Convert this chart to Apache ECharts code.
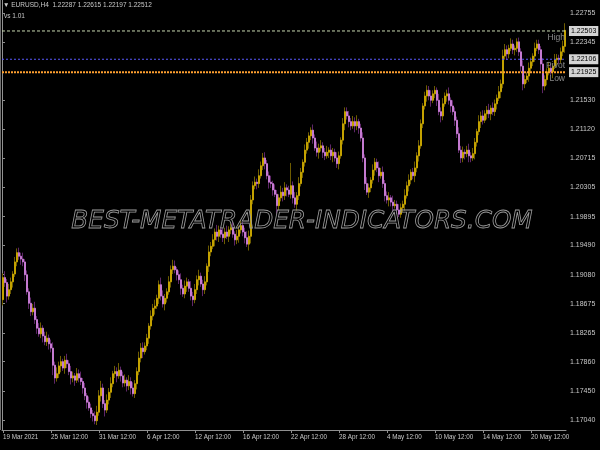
<!DOCTYPE html>
<html><head><meta charset="utf-8">
<script src="https://cdn.jsdelivr.net/npm/echarts@6/dist/echarts.min.js"></script>
<style>html,body{margin:0;padding:0;background:#000}#c{width:600px;height:450px}</style>
</head><body><div id="c"></div>
<script>
// ---- data ----
var firstOpen = 1.1873;
var closes = [
1.1904,1.1897,1.1878,1.1887,1.1898,1.1909,1.1926,1.1939,1.1934,1.1930,1.1926,1.1908,1.1884,1.1868,1.1856,1.1861,1.1845,1.1833,1.1825,1.1833,1.1822,1.1814,1.1819,1.1811,
1.1805,1.1781,1.1763,1.1769,1.1780,1.1786,1.1777,1.1788,1.1783,1.1772,1.1763,1.1766,1.1760,1.1769,1.1763,1.1758,1.1749,1.1738,1.1729,1.1721,1.1713,1.1710,1.1703,1.1715,
1.1738,1.1749,1.1727,1.1718,1.1732,1.1743,1.1755,1.1769,1.1772,1.1766,1.1774,1.1766,1.1756,1.1760,1.1752,1.1758,1.1749,1.1741,1.1755,1.1772,1.1791,1.1805,1.1800,1.1808,
1.1819,1.1836,1.1850,1.1861,1.1864,1.1875,1.1894,1.1878,1.1867,1.1875,1.1884,1.1898,1.1915,1.1920,1.1915,1.1908,1.1901,1.1889,1.1881,1.1892,1.1898,1.1889,1.1878,1.1873,
1.1887,1.1901,1.1906,1.1895,1.1887,1.1898,1.1920,1.1940,1.1948,1.1957,1.1968,1.1962,1.1971,1.1965,1.1960,1.1968,1.1962,1.1971,1.1974,1.1965,1.1957,1.1962,1.1971,1.1977,
1.1968,1.1960,1.1951,1.1962,1.2013,1.2033,1.2038,1.2036,1.2047,1.2061,1.2072,1.2064,1.2047,1.2038,1.2036,1.2027,1.2021,1.2005,1.2016,1.2024,1.2019,1.2030,1.2027,1.2021,
1.2033,1.2016,1.2007,1.2019,1.2036,1.2052,1.2066,1.2083,1.2094,1.2103,1.2111,1.2100,1.2086,1.2080,1.2086,1.2089,1.2080,1.2075,1.2080,1.2083,1.2075,1.2080,1.2072,1.2064,
1.2075,1.2097,1.2120,1.2137,1.2131,1.2123,1.2117,1.2123,1.2117,1.2123,1.2114,1.2100,1.2072,1.2036,1.2024,1.2030,1.2041,1.2055,1.2066,1.2058,1.2047,1.2052,1.2036,1.2019,
1.2013,1.2016,1.2010,1.2005,1.2007,1.1999,1.1993,1.2002,1.2007,1.2019,1.2033,1.2041,1.2052,1.2047,1.2058,1.2075,1.2089,1.2120,1.2145,1.2159,1.2167,1.2159,1.2153,1.2162,
1.2167,1.2153,1.2137,1.2131,1.2148,1.2159,1.2162,1.2153,1.2145,1.2137,1.2125,1.2106,1.2083,1.2072,1.2080,1.2078,1.2083,1.2075,1.2072,1.2078,1.2094,1.2109,1.2123,1.2131,
1.2125,1.2134,1.2139,1.2134,1.2142,1.2137,1.2148,1.2156,1.2165,1.2176,1.2215,1.2224,1.2218,1.2226,1.2232,1.2224,1.2226,1.2235,1.2221,1.2201,1.2176,1.2182,1.2187,1.2198,
1.2207,1.2215,1.2226,1.2232,1.2224,1.2204,1.2173,1.2182,1.2193,1.2198,1.2193,1.2201,1.2210,1.2212,1.2210,1.2221,1.22287,1.22512
];
// wick lengths above / below the body, in pips
var upWick = [
6,9,5,8,6,4,7,6,7,5,9,4,6,5,8,6,9,5,7,8,4,6,9,5,
6,8,5,9,6,8,4,6,9,5,8,6,4,8,6,9,5,7,4,8,6,5,6,9,
8,10,6,5,8,6,9,4,8,6,10,5,6,8,4,9,6,8,5,6,9,7,8,5,
6,4,8,6,9,5,6,10,8,6,5,8,6,9,8,4,6,9,5,8,6,4,10,6,
8,6,9,5,6,8,4,9,6,8,5,10,6,4,8,6,9,5,6,8,4,9,6,8,
5,6,9,8,7,6,8,5,9,6,7,8,5,6,9,4,8,6,5,9,6,8,5,6,
32,6,8,5,9,6,4,8,6,5,4,8,5,9,6,8,5,6,9,4,8,6,5,8,
6,4,8,6,6,7,5,8,6,9,4,6,8,5,9,6,4,8,6,5,9,6,8,5,
6,8,4,9,6,5,8,6,5,9,6,8,4,6,9,5,8,6,4,6,7,6,8,5,
6,4,9,6,8,5,6,9,4,8,6,5,9,6,8,4,6,9,5,8,6,4,9,6,
8,5,6,9,4,8,6,5,8,6,9,8,6,5,8,6,4,5,6,5,8,6,5,8,
6,4,8,6,6,5,8,6,5,9,6,4,8,6,5,6,8,10
];
var dnWick = [
8,6,9,5,6,8,4,6,5,8,6,9,4,8,6,5,6,8,4,6,9,5,6,8,
6,14,8,5,6,9,4,8,6,5,9,6,8,4,6,5,8,6,9,4,6,8,5,6,
5,8,6,9,4,6,8,5,6,9,4,8,6,5,8,6,9,4,6,8,5,6,9,4,
6,8,5,6,9,4,8,6,5,9,6,4,8,6,5,8,6,9,4,6,8,5,6,9,
5,6,8,4,9,6,5,8,6,4,9,6,8,5,6,9,4,8,6,5,8,6,9,5,
6,8,4,9,10,6,5,8,6,4,6,8,5,9,6,8,4,11,6,5,8,6,9,4,
6,8,5,9,6,4,8,6,5,9,6,8,4,6,9,5,8,6,4,8,6,9,5,6,
8,4,6,9,5,8,6,4,9,6,8,5,6,9,4,8,6,5,8,6,9,4,6,8,
5,9,6,8,4,6,4,5,6,9,4,8,6,5,9,6,8,4,6,5,8,6,9,4,
6,8,5,9,6,4,8,6,9,5,8,6,4,7,6,8,5,9,6,4,8,6,5,9,
6,4,8,6,9,5,6,8,4,9,6,5,8,6,4,6,8,5,6,8,9,6,5,8,
5,6,8,4,6,9,10,6,8,5,6,9,4,8,6,5,6,9
];
var xLabels = ['19 Mar 2021','25 Mar 12:00','31 Mar 12:00','6 Apr 12:00','12 Apr 12:00','16 Apr 12:00','22 Apr 12:00','28 Apr 12:00','4 May 12:00','10 May 12:00','14 May 12:00','20 May 12:00'];
var labelStep = 24;
var yTicks = [1.22755,1.22345,1.21530,1.21120,1.20715,1.20305,1.19895,1.19490,1.19080,1.18675,1.18265,1.17860,1.17450,1.17040];
var levels = [1.22503, 1.22106, 1.21925];
var levelNames = ['High', 'Pivot', 'Low'];
var yMin = 1.16900, yMax = 1.22938;
var header = '\u25BC EURUSD,H4  1.22287 1.22615 1.22197 1.22512';
var header2 = 'vs 1.01';

(function(){
var cats = [], full = [], bodies = [];
for (var i = 0; i < closes.length; i++) {
  var o = i === 0 ? firstOpen : closes[i-1];
  var c = closes[i];
  var hiB = Math.max(o,c), loB = Math.min(o,c);
  cats.push(String(i));
  full.push([o, c, loB - dnWick[i]*1e-4, hiB + upWick[i]*1e-4]);
  bodies.push([o, c, loB, hiB]);
}
var FONT = 'Liberation Sans';
var lineStyles = [
  {color:'#c8d8b0', type:[3,2], width:1},
  {color:'#5a5aff', type:[2,2], width:1},
  {color:'#ffa030', type:[2,1], width:2}
];
var levelSeries = levels.map(function(v, k){
  return {type:'line', xAxisIndex:1, yAxisIndex:0, symbol:'none', silent:true, z:6,
    lineStyle: lineStyles[k],
    data: [[0, v], [1, v]],
    endLabel:{show:true, formatter: v.toFixed(5), backgroundColor:'#d4d4d4', color:'#000',
      fontSize:7, fontFamily:FONT, padding:[2,2,1,2], distance:3}
  };
});
var chart = echarts.init(document.getElementById('c'), null, {renderer:'canvas'});
function showIdx(idx){ return idx % labelStep === 0; }
var baseGraphic = [
  {type:'line', shape:{x1:0.5,y1:0,x2:0.5,y2:430}, style:{stroke:'#707070', lineWidth:1}},
  {type:'text', left:3, top:2, style:{text:header, fill:'#c8c8c8', font:'6.5px '+FONT}},
  {type:'text', left:4, top:13, style:{text:header2, fill:'#c8c8c8', font:'6.5px '+FONT}},
  {type:'text', x:302, y:222, z:100, scaleX:1.03, style:{text:'BEST-METATRADER-INDICATORS.COM', align:'center', verticalAlign:'middle',
    font:'italic 24px "DejaVu Sans"', fill:'rgba(0,0,0,0)', stroke:'#9c9c9c', lineWidth:0.8}}
];
chart.setOption({
  backgroundColor:'#000',
  animation:false,
  grid:{left:1, right:34, top:0, bottom:20},
  xAxis:[{type:'category', data:cats, boundaryGap:true,
    axisLine:{lineStyle:{color:'#909090'}},
    axisTick:{show:true, alignWithLabel:true, length:3, interval:showIdx, lineStyle:{color:'#909090'}},
    axisLabel:{interval:showIdx, formatter:function(v,idx){return showIdx(idx) ? xLabels[idx/labelStep] : '';},
      color:'#c8c8c8', fontSize:6.3, fontFamily:FONT, align:'left', margin:4},
    splitLine:{show:false}},
    {type:'value', min:0, max:1, show:false}],
  yAxis:{type:'value', position:'right', min:yMin, max:yMax,
    axisLine:{show:true, lineStyle:{color:'#909090'}},
    axisTick:{show:true, length:3, customValues:yTicks, lineStyle:{color:'#909090'}},
    axisLabel:{customValues:yTicks, formatter:function(v){return v.toFixed(5);}, color:'#c8c8c8', fontSize:7, fontFamily:FONT, margin:4},
    splitLine:{show:false}},
  series:[
    {type:'candlestick', data:full, barWidth:1, z:2,
     itemStyle:{color:'#6e5c00', color0:'#5e2668', borderColor:'#6e5c00', borderColor0:'#5e2668', borderWidth:1}},
    {type:'candlestick', data:bodies, barWidth:1.5, z:3,
     itemStyle:{color:'#c4a200', color0:'#c47ad0', borderColor:'#c4a200', borderColor0:'#c47ad0', borderWidth:1}}
  ].concat(levelSeries),
  graphic: baseGraphic
});
// level names, placed through the axes' own scales
var xEnd = chart.convertToPixel({xAxisIndex:1}, 1);
var nameGraphics = levels.map(function(v, k){
  var y = chart.convertToPixel({yAxisIndex:0}, v);
  return {type:'text', x: xEnd - 1, y: y + 2, z:50,
    style:{text: levelNames[k], align:'right', verticalAlign:'top', fill:'#8a8a8a', font:'8.5px '+FONT}};
});
chart.setOption({graphic: baseGraphic.concat(nameGraphics)});
})();
</script></body></html>
